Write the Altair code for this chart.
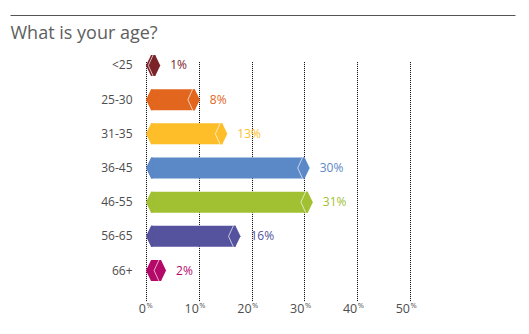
import altair as alt
import pandas as pd

# ---- data ----
ages = ["<25", "25-30", "31-35", "36-45", "46-55", "56-65", "66+"]
labels = ["1%", "8%", "13%", "30%", "31%", "16%", "2%"]
bar_end = [2.7, 10.2, 15.4, 31.0, 31.6, 17.9, 3.8]
colors = ["#7b2328", "#e2661d", "#fdbe2a", "#5b88c6", "#a1c032", "#55529e", "#b5096a"]
ticks = [0, 10, 20, 30, 40, 50]
title_text = "What is your age?"

df = pd.DataFrame({"age": ages, "label": labels, "end": bar_end, "start": [0] * len(ages)})
tick_df = pd.DataFrame({"v": ticks, "num": [str(t) for t in ticks], "pct": ["%"] * len(ticks)})
title_df = pd.DataFrame({"t": [title_text]})

W, H = 264, 245
FONT = "Open Sans"

x_scale = alt.Scale(domain=[0, 50], nice=False, zero=True)
y_scale = alt.Scale(type="band", domain=ages, range=[-3.6, 235.6], paddingInner=0, paddingOuter=0)
color = alt.Color("age:N", scale=alt.Scale(domain=ages, range=colors), legend=None)

base = alt.Chart(df)

x_enc = alt.X("start:Q", scale=x_scale,
              axis=alt.Axis(values=ticks, grid=True, gridDash=[1, 1], gridColor="#000000",
                            gridWidth=1, labels=False, ticks=False, domain=False, title=None))
y_enc = alt.Y("age:N", scale=y_scale, sort=ages,
              axis=alt.Axis(ticks=False, domain=False, title=None, labelPadding=14,
                            labelColor="#4d4d4d", labelFontSize=12, labelFont=FONT))

body = base.mark_bar(size=21, xOffset=5, x2Offset=-5).encode(
    x=x_enc, x2="end:Q", y=y_enc, color=color)

LEFT = "M 0 0 L 0.48 -1 L 0.64 -1 L 0.64 1 L 0.48 1 Z"
RIGHT = "M 0 0 L -0.48 -1 L -0.64 -1 L -0.64 1 L -0.48 1 Z"
CHEV = "M -0.68 -1 L -1.14 0 L -0.68 1"

left_cap = base.mark_point(shape=LEFT, filled=True, size=441, opacity=1, strokeWidth=0).encode(
    x=alt.X("start:Q", scale=x_scale), y=alt.Y("age:N", scale=y_scale), color=color)
right_cap = base.mark_point(shape=RIGHT, filled=True, size=441, opacity=1, strokeWidth=0).encode(
    x=alt.X("end:Q", scale=x_scale), y=alt.Y("age:N", scale=y_scale), color=color)
chev = base.mark_point(shape=CHEV, filled=False, size=441, opacity=0.85, stroke="#ffffff",
                       strokeWidth=0.8).encode(
    x=alt.X("end:Q", scale=x_scale), y=alt.Y("age:N", scale=y_scale))

value_text = base.mark_text(align="left", baseline="middle", dx=10, fontSize=12, font=FONT).encode(
    x=alt.X("end:Q", scale=x_scale), y=alt.Y("age:N", scale=y_scale), text="label:N", color=color)

tick_num = alt.Chart(tick_df).mark_text(align="right", baseline="alphabetic", fontSize=12.5,
                                        font=FONT, color="#4d4d4d").encode(
    x=alt.X("v:Q", scale=x_scale), y=alt.value(H + 16), text="num:N")
tick_pct = alt.Chart(tick_df).mark_text(align="left", baseline="alphabetic", fontSize=7.5,
                                        font=FONT, color="#4d4d4d", dx=0.5).encode(
    x=alt.X("v:Q", scale=x_scale), y=alt.value(H + 11), text="pct:N")

title = alt.Chart(title_df).mark_text(align="left", baseline="alphabetic", fontSize=18,
                                      font=FONT, color="#5e5e5e").encode(
    x=alt.value(-135.5), y=alt.value(-13.5), text="t:N")
top_rule = alt.Chart(title_df).mark_rule(color="#555555", strokeWidth=1).encode(
    x=alt.value(-135.5), x2=alt.value(369.5), y=alt.value(-36.5))

chart = alt.layer(body, left_cap, right_cap, chev, value_text, tick_num, tick_pct, title, top_rule).properties(
    width=W, height=H,
    autosize=alt.AutoSizeParams(type="none"),
    padding={"left": 146, "top": 52, "right": 119, "bottom": 37},
    background="#ffffff",
).configure_view(stroke=None)

chart.save("out.html", embed_options={"renderer": "svg", "actions": False})
